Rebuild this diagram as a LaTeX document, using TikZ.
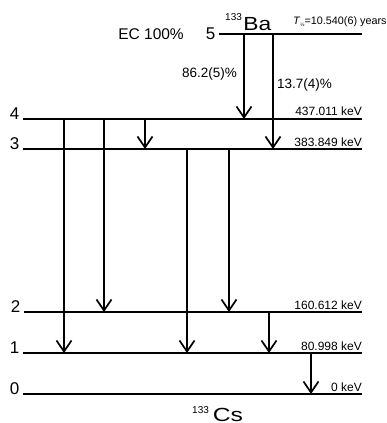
\documentclass[tikz,border=0pt]{standalone}
\usepackage{fontspec}
\setmainfont{Liberation Sans}
\usetikzlibrary{arrows.meta,positioning}
\newcommand{\fsz}[1]{\fontsize{#1}{#1}\selectfont}

\begin{document}
\begin{tikzpicture}[x=1pt, y=-1pt,
    level/.style={line width=1.2pt},
    ground/.style={line width=2.6pt},
    gam/.style={-{Straight Barb[length=11pt,width=15pt,line width=1.7pt]}, line width=1.2pt},
    gamthick/.style={gam, line width=2.4pt},
    lvnum/.style={anchor=base east, inner sep=0pt, font=\fsz{17}},
    energy/.style={anchor=base east, inner sep=0pt, font=\fsz{12}},
    branch/.style={inner sep=0pt, font=\fsz{13.5}},
    nuclide/.style={anchor=base west, inner sep=0pt, font=\fsz{19}}
]
\useasboundingbox (0,0) rectangle (387,423);
\coordinate (rgt) at (362,0);
\coordinate (lv5) at (219,34);
\coordinate (lv4) at (23,119);
\coordinate (lv3) at (23,149);
\coordinate (lv2) at (24,312);
\coordinate (lv1) at (23,353);
\coordinate (lv0) at (23,394);
\coordinate (c1) at (64,0);
\coordinate (c2) at (104,0);
\coordinate (c3) at (145,0);
\coordinate (c4) at (187,0);
\coordinate (c5) at (229,0);
\coordinate (c6) at (269,0);
\coordinate (c7) at (311,0);
\coordinate (c8) at (244,0);
\coordinate (c9) at (273,0);

\draw[level] (lv5) -- (lv5 -| rgt);
\draw[level] (lv4) -- (lv4 -| rgt);
\draw[level] (lv3) -- (lv3 -| rgt);
\draw[level] (lv2) -- (lv2 -| rgt);
\draw[level] (lv1) -- (lv1 -| rgt);
\draw[ground] (lv0) -- (lv0 -| rgt);

\node[lvnum] (n5) at ([xshift=-3.5pt, yshift=-5pt]lv5) {5};
\node[lvnum] (n4) at ([xshift=-3.5pt]lv4) {4};
\node[lvnum] (n3) at ([xshift=-3.5pt]lv3) {3};
\node[lvnum] (n2) at ([xshift=-3.5pt]lv2) {2};
\node[lvnum] (n1) at ([xshift=-3.5pt]lv1) {1};
\node[lvnum] (n0) at ([xshift=-3.5pt]lv0) {0};

\node[energy] (e4) at ([yshift=4pt]lv4 -| rgt) {437.011 keV};
\node[energy] (e3) at ([yshift=2.5pt]lv3 -| rgt) {383.849 keV};
\node[energy] (e2) at ([yshift=2.5pt]lv2 -| rgt) {160.612 keV};
\node[energy] (e1) at ([yshift=3pt]lv1 -| rgt) {80.998 keV};
\node[energy] (e0) at ([yshift=3pt]lv0 -| rgt) {0 keV};

\node[anchor=base east, inner sep=0pt, font=\fsz{15.5}] (ec) at (184,39) {EC 100\%};
\node[nuclide] (ba) at (225,30) {\raisebox{9.5pt}{\fsz{10}133}\hspace{1.5pt}\scalebox{1.2}[1]{Ba}};
\node[anchor=base west, inner sep=0pt, font=\fsz{10.8}] (thalf) at (293,24)
    {\textit{T}\raisebox{-2pt}{\fsz{5}½}=10.540(6) years};
\node[nuclide] (cs) at (192,421.5) {\raisebox{8pt}{\fsz{10}133}\hspace{4pt}\scalebox{1.3}[1]{Cs}};

\draw[gam] (c8 |- lv5) -- (c8 |- lv4);
\draw[gam] (c9 |- lv5) -- (c9 |- lv3);
\node[branch, anchor=base east] (b4) at (237,77) {86.2(5)\%};
\node[branch, anchor=base west] (b3) at (277,88) {13.7(4)\%};

\draw[gamthick] (c1 |- lv4) -- (c1 |- lv1);
\draw[gam] (c2 |- lv4) -- (c2 |- lv2);
\draw[gam] (c3 |- lv4) -- (c3 |- lv3);
\draw[gam] (c4 |- lv3) -- (c4 |- lv1);
\draw[gam] (c5 |- lv3) -- (c5 |- lv2);
\draw[gam] (c6 |- lv2) -- (c6 |- lv1);
\draw[gamthick] (c7 |- lv1) -- (c7 |- lv0);
\end{tikzpicture}
\end{document}
